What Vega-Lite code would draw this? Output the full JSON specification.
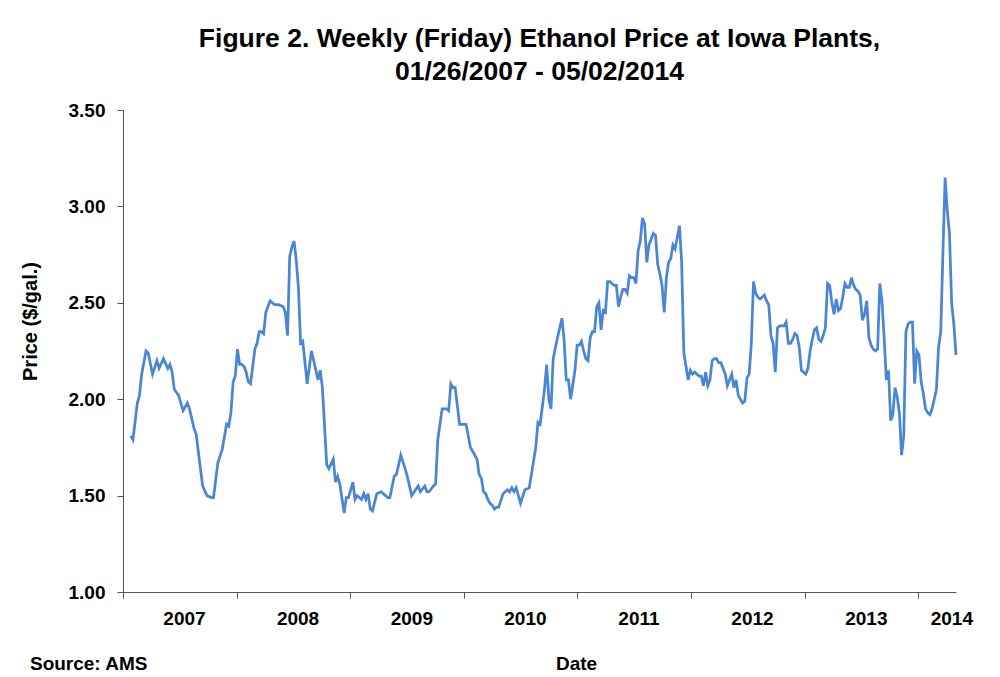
{
"$schema": "https://vega.github.io/schema/vega-lite/v6.json",
"width": 833, "height": 482,
"autosize": "none",
"padding": {"left": 123, "top": 110, "right": 44, "bottom": 85},
"background": "white",
"title": {"text": ["Figure 2. Weekly (Friday) Ethanol Price at Iowa Plants,", "01/26/2007 - 05/02/2014"], "font": "Liberation Sans", "fontSize": 26.5, "fontWeight": "bold", "color": "#000000", "anchor": "middle", "lineHeight": 33, "offset": 16},
"config": {"view": {"stroke": null}, "font": "Liberation Sans"},
"data": {"format": {"parse": {"date": "utc:'%Y-%m-%d'"}}, "values": [
{"date":"2007-01-26","price":1.81},{"date":"2007-02-02","price":1.79},{"date":"2007-02-16","price":1.98},{"date":"2007-02-23","price":2.02},{"date":"2007-03-02","price":2.13},{"date":"2007-03-16","price":2.25},{"date":"2007-03-23","price":2.24},{"date":"2007-04-06","price":2.13},{"date":"2007-04-20","price":2.20},{"date":"2007-04-27","price":2.16},{"date":"2007-05-11","price":2.21},{"date":"2007-05-25","price":2.16},{"date":"2007-06-01","price":2.18},{"date":"2007-06-08","price":2.14},{"date":"2007-06-15","price":2.05},{"date":"2007-06-29","price":2.02},{"date":"2007-07-13","price":1.94},{"date":"2007-07-27","price":1.98},{"date":"2007-08-03","price":1.95},{"date":"2007-08-17","price":1.85},{"date":"2007-08-24","price":1.82},{"date":"2007-09-14","price":1.55},{"date":"2007-09-28","price":1.50},{"date":"2007-10-12","price":1.49},{"date":"2007-10-19","price":1.49},{"date":"2007-11-02","price":1.67},{"date":"2007-11-16","price":1.74},{"date":"2007-11-30","price":1.87},{"date":"2007-12-07","price":1.86},{"date":"2007-12-14","price":1.93},{"date":"2007-12-21","price":2.09},{"date":"2007-12-28","price":2.12},
{"date":"2008-01-04","price":2.26},{"date":"2008-01-11","price":2.18},{"date":"2008-01-18","price":2.18},{"date":"2008-01-25","price":2.17},{"date":"2008-02-01","price":2.14},{"date":"2008-02-08","price":2.09},{"date":"2008-02-15","price":2.08},{"date":"2008-02-29","price":2.26},{"date":"2008-03-07","price":2.29},{"date":"2008-03-14","price":2.35},{"date":"2008-03-21","price":2.35},{"date":"2008-03-28","price":2.34},{"date":"2008-04-04","price":2.45},{"date":"2008-04-18","price":2.51},{"date":"2008-04-25","price":2.50},{"date":"2008-05-02","price":2.49},{"date":"2008-05-16","price":2.49},{"date":"2008-05-30","price":2.48},{"date":"2008-06-06","price":2.45},{"date":"2008-06-13","price":2.33},{"date":"2008-06-20","price":2.74},{"date":"2008-06-27","price":2.79},{"date":"2008-07-04","price":2.82},{"date":"2008-07-11","price":2.72},{"date":"2008-07-18","price":2.58},{"date":"2008-07-25","price":2.29},{"date":"2008-08-01","price":2.30},{"date":"2008-08-15","price":2.08},{"date":"2008-08-29","price":2.25},{"date":"2008-09-19","price":2.10},{"date":"2008-09-26","price":2.15},{"date":"2008-10-03","price":2.06},{"date":"2008-10-17","price":1.66},{"date":"2008-10-24","price":1.64},{"date":"2008-11-07","price":1.69},{"date":"2008-11-14","price":1.57},{"date":"2008-11-21","price":1.60},{"date":"2008-11-28","price":1.56},{"date":"2008-12-12","price":1.41},{"date":"2008-12-19","price":1.49},{"date":"2008-12-26","price":1.49},
{"date":"2009-01-09","price":1.57},{"date":"2009-01-16","price":1.48},{"date":"2009-01-23","price":1.50},{"date":"2009-02-06","price":1.48},{"date":"2009-02-13","price":1.51},{"date":"2009-02-20","price":1.48},{"date":"2009-02-27","price":1.51},{"date":"2009-03-06","price":1.43},{"date":"2009-03-13","price":1.42},{"date":"2009-03-27","price":1.51},{"date":"2009-04-10","price":1.52},{"date":"2009-04-24","price":1.50},{"date":"2009-05-01","price":1.49},{"date":"2009-05-08","price":1.49},{"date":"2009-05-22","price":1.60},{"date":"2009-05-29","price":1.61},{"date":"2009-06-12","price":1.71},{"date":"2009-06-26","price":1.64},{"date":"2009-07-03","price":1.60},{"date":"2009-07-17","price":1.50},{"date":"2009-08-07","price":1.55},{"date":"2009-08-14","price":1.52},{"date":"2009-08-28","price":1.55},{"date":"2009-09-04","price":1.52},{"date":"2009-09-11","price":1.52},{"date":"2009-09-25","price":1.55},{"date":"2009-10-02","price":1.56},{"date":"2009-10-09","price":1.79},{"date":"2009-10-23","price":1.95},{"date":"2009-11-06","price":1.95},{"date":"2009-11-13","price":1.94},{"date":"2009-11-20","price":2.08},{"date":"2009-11-27","price":2.06},{"date":"2009-12-04","price":2.06},{"date":"2009-12-18","price":1.87},
{"date":"2010-01-01","price":1.87},{"date":"2010-01-08","price":1.87},{"date":"2010-01-22","price":1.75},{"date":"2010-01-29","price":1.73},{"date":"2010-02-12","price":1.69},{"date":"2010-02-19","price":1.61},{"date":"2010-02-26","price":1.59},{"date":"2010-03-05","price":1.52},{"date":"2010-03-12","price":1.51},{"date":"2010-03-19","price":1.48},{"date":"2010-03-26","price":1.46},{"date":"2010-04-02","price":1.45},{"date":"2010-04-09","price":1.43},{"date":"2010-04-16","price":1.44},{"date":"2010-04-23","price":1.44},{"date":"2010-05-07","price":1.51},{"date":"2010-05-21","price":1.53},{"date":"2010-05-28","price":1.52},{"date":"2010-06-04","price":1.54},{"date":"2010-06-11","price":1.52},{"date":"2010-06-18","price":1.54},{"date":"2010-07-02","price":1.46},{"date":"2010-07-16","price":1.53},{"date":"2010-07-30","price":1.54},{"date":"2010-08-13","price":1.68},{"date":"2010-08-20","price":1.75},{"date":"2010-08-27","price":1.88},{"date":"2010-09-03","price":1.87},{"date":"2010-09-17","price":2.05},{"date":"2010-09-24","price":2.18},{"date":"2010-10-01","price":2.00},{"date":"2010-10-08","price":1.95},{"date":"2010-10-15","price":2.21},{"date":"2010-10-29","price":2.32},{"date":"2010-11-12","price":2.42},{"date":"2010-11-19","price":2.31},{"date":"2010-11-26","price":2.10},{"date":"2010-12-03","price":2.10},{"date":"2010-12-10","price":2.00},{"date":"2010-12-24","price":2.15},{"date":"2010-12-31","price":2.28},
{"date":"2011-01-07","price":2.28},{"date":"2011-01-14","price":2.30},{"date":"2011-01-21","price":2.25},{"date":"2011-01-28","price":2.21},{"date":"2011-02-04","price":2.20},{"date":"2011-02-11","price":2.32},{"date":"2011-02-18","price":2.35},{"date":"2011-02-25","price":2.35},{"date":"2011-03-04","price":2.48},{"date":"2011-03-11","price":2.50},{"date":"2011-03-18","price":2.36},{"date":"2011-03-25","price":2.46},{"date":"2011-04-01","price":2.45},{"date":"2011-04-08","price":2.61},{"date":"2011-04-15","price":2.61},{"date":"2011-04-22","price":2.60},{"date":"2011-04-29","price":2.59},{"date":"2011-05-06","price":2.59},{"date":"2011-05-13","price":2.48},{"date":"2011-05-20","price":2.53},{"date":"2011-05-27","price":2.57},{"date":"2011-06-03","price":2.57},{"date":"2011-06-10","price":2.55},{"date":"2011-06-17","price":2.64},{"date":"2011-06-24","price":2.63},{"date":"2011-07-01","price":2.63},{"date":"2011-07-08","price":2.60},{"date":"2011-07-15","price":2.77},{"date":"2011-07-22","price":2.82},{"date":"2011-07-29","price":2.94},{"date":"2011-08-05","price":2.91},{"date":"2011-08-12","price":2.71},{"date":"2011-08-19","price":2.80},{"date":"2011-08-26","price":2.83},{"date":"2011-09-02","price":2.86},{"date":"2011-09-09","price":2.85},{"date":"2011-09-16","price":2.70},{"date":"2011-09-23","price":2.65},{"date":"2011-09-30","price":2.59},{"date":"2011-10-07","price":2.45},{"date":"2011-10-14","price":2.63},{"date":"2011-10-21","price":2.71},{"date":"2011-10-28","price":2.73},{"date":"2011-11-04","price":2.80},{"date":"2011-11-11","price":2.78},{"date":"2011-11-18","price":2.84},{"date":"2011-11-25","price":2.90},{"date":"2011-12-02","price":2.71},{"date":"2011-12-09","price":2.24},{"date":"2011-12-16","price":2.17},{"date":"2011-12-23","price":2.10},{"date":"2011-12-30","price":2.15},
{"date":"2012-01-06","price":2.13},{"date":"2012-01-13","price":2.14},{"date":"2012-01-20","price":2.13},{"date":"2012-01-27","price":2.12},{"date":"2012-02-03","price":2.12},{"date":"2012-02-10","price":2.07},{"date":"2012-02-17","price":2.14},{"date":"2012-02-24","price":2.07},{"date":"2012-03-02","price":2.10},{"date":"2012-03-09","price":2.20},{"date":"2012-03-16","price":2.21},{"date":"2012-03-23","price":2.21},{"date":"2012-03-30","price":2.19},{"date":"2012-04-06","price":2.19},{"date":"2012-04-13","price":2.16},{"date":"2012-04-20","price":2.13},{"date":"2012-04-27","price":2.07},{"date":"2012-05-04","price":2.10},{"date":"2012-05-11","price":2.13},{"date":"2012-05-18","price":2.06},{"date":"2012-05-25","price":2.10},{"date":"2012-06-01","price":2.02},{"date":"2012-06-08","price":2.00},{"date":"2012-06-15","price":1.98},{"date":"2012-06-22","price":1.99},{"date":"2012-06-29","price":2.11},{"date":"2012-07-06","price":2.13},{"date":"2012-07-13","price":2.29},{"date":"2012-07-20","price":2.61},{"date":"2012-07-27","price":2.55},{"date":"2012-08-03","price":2.53},{"date":"2012-08-10","price":2.52},{"date":"2012-08-17","price":2.53},{"date":"2012-08-24","price":2.54},{"date":"2012-08-31","price":2.51},{"date":"2012-09-07","price":2.49},{"date":"2012-09-14","price":2.33},{"date":"2012-09-21","price":2.29},{"date":"2012-09-28","price":2.14},{"date":"2012-10-05","price":2.37},{"date":"2012-10-12","price":2.38},{"date":"2012-10-19","price":2.38},{"date":"2012-10-26","price":2.38},{"date":"2012-11-02","price":2.40},{"date":"2012-11-09","price":2.29},{"date":"2012-11-16","price":2.29},{"date":"2012-11-23","price":2.31},{"date":"2012-11-30","price":2.34},{"date":"2012-12-07","price":2.33},{"date":"2012-12-14","price":2.27},{"date":"2012-12-21","price":2.15},{"date":"2012-12-28","price":2.14},
{"date":"2013-01-04","price":2.13},{"date":"2013-01-11","price":2.16},{"date":"2013-01-18","price":2.25},{"date":"2013-01-25","price":2.31},{"date":"2013-02-01","price":2.36},{"date":"2013-02-08","price":2.37},{"date":"2013-02-15","price":2.31},{"date":"2013-02-22","price":2.30},{"date":"2013-03-01","price":2.33},{"date":"2013-03-08","price":2.37},{"date":"2013-03-15","price":2.60},{"date":"2013-03-22","price":2.59},{"date":"2013-03-29","price":2.50},{"date":"2013-04-05","price":2.44},{"date":"2013-04-12","price":2.52},{"date":"2013-04-19","price":2.46},{"date":"2013-04-26","price":2.47},{"date":"2013-05-03","price":2.53},{"date":"2013-05-10","price":2.60},{"date":"2013-05-17","price":2.58},{"date":"2013-05-24","price":2.58},{"date":"2013-05-31","price":2.63},{"date":"2013-06-07","price":2.59},{"date":"2013-06-14","price":2.57},{"date":"2013-06-21","price":2.56},{"date":"2013-06-28","price":2.54},{"date":"2013-07-05","price":2.41},{"date":"2013-07-12","price":2.44},{"date":"2013-07-19","price":2.51},{"date":"2013-07-26","price":2.32},{"date":"2013-08-02","price":2.28},{"date":"2013-08-09","price":2.26},{"date":"2013-08-16","price":2.25},{"date":"2013-08-23","price":2.26},{"date":"2013-08-30","price":2.60},{"date":"2013-09-06","price":2.51},{"date":"2013-09-13","price":2.32},{"date":"2013-09-20","price":2.10},{"date":"2013-09-27","price":2.15},{"date":"2013-10-04","price":1.89},{"date":"2013-10-11","price":1.92},{"date":"2013-10-18","price":2.06},{"date":"2013-10-25","price":2.01},{"date":"2013-11-01","price":1.93},{"date":"2013-11-08","price":1.71},{"date":"2013-11-15","price":1.81},{"date":"2013-11-22","price":2.35},{"date":"2013-11-29","price":2.39},{"date":"2013-12-06","price":2.40},{"date":"2013-12-13","price":2.40},{"date":"2013-12-20","price":2.08},{"date":"2013-12-27","price":2.25},
{"date":"2014-01-03","price":2.23},{"date":"2014-01-10","price":2.09},{"date":"2014-01-17","price":2.03},{"date":"2014-01-24","price":1.95},{"date":"2014-01-31","price":1.93},{"date":"2014-02-07","price":1.92},{"date":"2014-02-14","price":1.95},{"date":"2014-02-21","price":2.00},{"date":"2014-02-28","price":2.05},{"date":"2014-03-07","price":2.27},{"date":"2014-03-14","price":2.35},{"date":"2014-03-21","price":2.76},{"date":"2014-03-28","price":3.15},{"date":"2014-04-04","price":2.98},{"date":"2014-04-11","price":2.86},{"date":"2014-04-18","price":2.50},{"date":"2014-04-25","price":2.39},{"date":"2014-05-02","price":2.23}
]},
"layer": [
{"mark": {"type": "line", "color": "#4a86d4", "strokeWidth": 2.75},
 "encoding": {
  "x": {"field": "date", "type": "temporal",
   "scale": {"type": "utc", "domain": [{"year": 2007, "month": 1, "date": 1, "utc": true}, {"year": 2014, "month": 5, "date": 2, "utc": true}]},
   "axis": {"title": "Date", "titleFont": "Liberation Sans", "titleFontSize": 19, "titleFontWeight": "bold", "titleColor": "#000000",
    "titleX": 453, "titleY": 71, "titleAlign": "center", "titleBaseline": "middle", "titleAngle": 0,
    "values": [{"year": 2007, "month": 1, "date": 1, "utc": true}, {"year": 2008, "month": 1, "date": 1, "utc": true}, {"year": 2009, "month": 1, "date": 1, "utc": true}, {"year": 2010, "month": 1, "date": 1, "utc": true}, {"year": 2011, "month": 1, "date": 1, "utc": true}, {"year": 2012, "month": 1, "date": 1, "utc": true}, {"year": 2013, "month": 1, "date": 1, "utc": true}, {"year": 2014, "month": 1, "date": 1, "utc": true}],
    "format": "%Y", "formatType": "utc",
    "labelFont": "Liberation Sans", "labelFontSize": 19, "labelFontWeight": "bold", "labelColor": "#000000",
    "labelOffset": {"condition": {"test": "utcyear(datum.value) == 2014", "value": 33}, "value": 61},
    "labelPadding": 11, "labelAlign": "center", "labelBaseline": "top", "labelFlush": false, "labelOverlap": false, "labelBound": false,
    "domainColor": "#555555", "domainWidth": 1, "tickColor": "#555555", "tickWidth": 1, "tickSize": 6, "grid": false,
    "encode": {"ticks": {"update": {"y": {"value": -7}}}}}},
  "y": {"field": "price", "type": "quantitative",
   "scale": {"domain": [1, 3.5], "nice": false, "zero": false},
   "axis": {"title": "Price ($/gal.)", "titleFont": "Liberation Sans", "titleFontSize": 20, "titleFontWeight": "bold", "titleColor": "#000000",
    "titleX": -93, "titleY": 211, "titleAngle": -90, "titleAlign": "center", "titleBaseline": "middle",
    "values": [1, 1.5, 2, 2.5, 3, 3.5], "format": ".2f",
    "labelFont": "Liberation Sans", "labelFontSize": 19, "labelFontWeight": "bold", "labelColor": "#000000", "labelPadding": 12,
    "domainColor": "#555555", "domainWidth": 1, "tickColor": "#555555", "tickWidth": 1, "tickSize": 6, "grid": false}}
 }},
{"mark": {"type": "line", "opacity": 0},
 "encoding": {
  "x": {"field": "date", "type": "temporal", "axis": null},
  "y": {"field": "price", "type": "quantitative",
   "axis": {"orient": "right", "title": "Source: AMS", "titleFont": "Liberation Sans", "titleFontSize": 19, "titleFontWeight": "bold", "titleColor": "#000000",
    "titleX": -809, "titleY": 553, "titleAngle": 0, "titleAlign": "right", "titleBaseline": "middle",
    "domain": false, "ticks": false, "labels": false, "grid": false}}
 }}
],
"resolve": {"axis": {"x": "independent", "y": "independent"}}
}
